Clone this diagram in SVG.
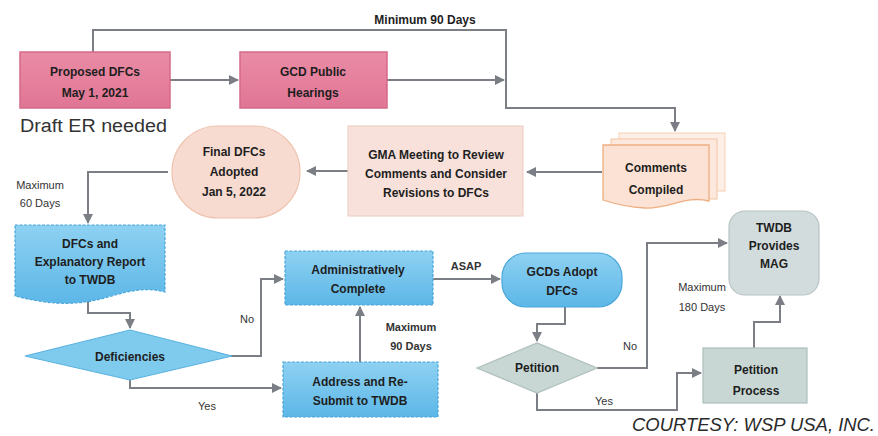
<svg xmlns="http://www.w3.org/2000/svg" width="878" height="436" viewBox="0 0 878 436">
<defs>
<marker id="ah" viewBox="0 0 10 10" refX="9" refY="5" markerWidth="5" markerHeight="5" orient="auto-start-reverse">
<path d="M0,0 L10,5 L0,10 Z" fill="#7b7f85"/>
</marker>
<linearGradient id="pink" x1="0" y1="0" x2="0" y2="1">
<stop offset="0" stop-color="#ea8ca5"/><stop offset="1" stop-color="#e07595"/>
</linearGradient>
<linearGradient id="blue" x1="0" y1="0" x2="0" y2="1">
<stop offset="0" stop-color="#8ed1f2"/><stop offset="1" stop-color="#5cb7e7"/>
</linearGradient>
<style>
.t{font-family:"Liberation Sans",Arial,sans-serif;font-weight:bold;font-size:12px;fill:#1e1e1e;text-anchor:middle}
.l{font-family:"Liberation Sans",Arial,sans-serif;font-size:11px;fill:#333;text-anchor:middle}
.c{fill:none;stroke:#7b7f85;stroke-width:2}
.pk{fill:url(#pink);stroke:#d56a88;stroke-width:1.5}
.bl{fill:url(#blue);stroke:#4aa6da;stroke-width:1.2;stroke-dasharray:3 1.5}
.gy{fill:#c8d7d4;stroke:#aebfbc;stroke-width:1.2}
</style>
</defs>
<rect width="878" height="436" fill="#ffffff"/>

<g id="connectors">
<path class="c" d="M93,52 V30 H506 V108 H675 V131" marker-end="url(#ah)"/>
<path class="c" d="M170,80 H238" marker-end="url(#ah)"/>
<path class="c" d="M387,80 H504" marker-end="url(#ah)"/>
<path class="c" d="M602,172 H527" marker-end="url(#ah)"/>
<path class="c" d="M348,171 H307" marker-end="url(#ah)"/>
<path class="c" d="M168,172 H88 V223" marker-end="url(#ah)"/>
<path class="c" d="M88,296 V313 H130 V328" marker-end="url(#ah)"/>
<path class="c" d="M230,356 H261 V279 H283" marker-end="url(#ah)"/>
<path class="c" d="M130,378 V388 H281" marker-end="url(#ah)"/>
<path class="c" d="M360,362 V307" marker-end="url(#ah)"/>
<path class="c" d="M433,279 H500" marker-end="url(#ah)"/>
<path class="c" d="M565,307 V324 H537 V341" marker-end="url(#ah)"/>
<path class="c" d="M597,368 H647 V243 H727" marker-end="url(#ah)"/>
<path class="c" d="M537,393 V410 H677 V373 H701" marker-end="url(#ah)"/>
<path class="c" d="M754,348 V322 H780 V296" marker-end="url(#ah)"/>
<text x="425" y="24" class="t" font-size="13.5">Minimum 90 Days</text>
<text x="40" y="189" class="l" font-size="10.5" fill="#555">Maximum</text>
<text x="40" y="207" class="l" font-size="10.5" fill="#555">60 Days</text>
<text x="247" y="323" class="l">No</text>
<text x="207" y="410" class="l">Yes</text>
<text x="411" y="331" class="l" font-weight="bold">Maximum</text>
<text x="411" y="350" class="l" font-weight="bold">90 Days</text>
<text x="466" y="270" class="l" font-weight="bold">ASAP</text>
<text x="630" y="350" class="l">No</text>
<text x="604" y="405" class="l">Yes</text>
<text x="702" y="291" class="l" font-size="10.5" fill="#555">Maximum</text>
<text x="702" y="311" class="l" font-size="10.5" fill="#555">180 Days</text>
</g>

<g id="proposed">
<rect x="20" y="52" width="150" height="56" class="pk"/>
<text x="95" y="76" class="t" font-size="13">Proposed DFCs</text>
<text x="95" y="97" class="t" font-size="13">May 1, 2021</text>
</g>
<text x="20" y="132" font-family="'Liberation Sans',Arial,sans-serif" font-size="18" fill="#333" textLength="147" lengthAdjust="spacingAndGlyphs">Draft ER needed</text>

<g id="hearings">
<rect x="240" y="52" width="147" height="56" class="pk"/>
<text x="313" y="76" class="t" font-size="13">GCD Public</text>
<text x="313" y="97" class="t" font-size="13">Hearings</text>
</g>

<g id="comments">
<rect x="619" y="133" width="106" height="58" fill="#fdeee6" stroke="#f5cfb5" stroke-width="1"/>
<rect x="611" y="139" width="106" height="60" fill="#fce8dc" stroke="#f3c4a4" stroke-width="1"/>
<path d="M603,145 H709 V201 C685,195 670,209 645,208 C625,207 612,203 603,200 Z" fill="#fbe2d4" stroke="#efae82" stroke-width="1.3"/>
<text x="656" y="172" class="t">Comments</text>
<text x="656" y="194" class="t">Compiled</text>
</g>

<g id="gma">
<rect x="348" y="126" width="175" height="90" fill="#f8e1db" stroke="#efd1c9" stroke-width="1.2"/>
<text x="436" y="159" class="t" font-size="11.5">GMA Meeting to Review</text>
<text x="436" y="178" class="t" font-size="11.5">Comments and Consider</text>
<text x="436" y="197" class="t" font-size="11.5">Revisions to DFCs</text>
</g>

<g id="final">
<rect x="172" y="126" width="128" height="92" rx="46" fill="#f7dbd1" stroke="#eec3ad" stroke-width="1.2"/>
<text x="234" y="156" class="t" font-size="12.5">Final DFCs</text>
<text x="234" y="176" class="t" font-size="12.5">Adopted</text>
<text x="234" y="196" class="t" font-size="12.5">Jan 5, 2022</text>
</g>

<g id="report">
<path d="M15,225 H165 V292 C135,284 115,298 85,302 C55,306 32,300 15,296 Z" class="bl"/>
<text x="90" y="248" class="t" font-size="11.5">DFCs and</text>
<text x="90" y="266" class="t" font-size="11.5">Explanatory Report</text>
<text x="90" y="284" class="t" font-size="11.5">to TWDB</text>
</g>

<g id="deficiencies">
<polygon points="25,356 130,330 232,356 130,380" fill="#7fcbee" stroke="#5bb2e0" stroke-width="1.2"/>
<text x="130" y="361" class="t" font-size="13">Deficiencies</text>
</g>

<g id="admin">
<rect x="285" y="251" width="148" height="54" class="bl"/>
<text x="358" y="274" class="t">Administratively</text>
<text x="358" y="293" class="t">Complete</text>
</g>

<g id="address">
<rect x="283" y="362" width="155" height="55" class="bl"/>
<text x="360" y="386" class="t">Address and Re-</text>
<text x="360" y="405" class="t">Submit to TWDB</text>
</g>

<g id="gcds">
<rect x="502" y="253" width="120" height="54" rx="24" fill="url(#blue)" stroke="#4aa6da" stroke-width="1.2"/>
<text x="562" y="276" class="t">GCDs Adopt</text>
<text x="562" y="295" class="t">DFCs</text>
</g>

<g id="petition">
<polygon points="477,368 537,343 597,368 537,393" class="gy"/>
<text x="537" y="372" class="t">Petition</text>
</g>

<g id="petition-process">
<rect x="703" y="348" width="104" height="55" class="gy"/>
<text x="756" y="374" class="t" font-size="12.5">Petition</text>
<text x="756" y="395" class="t" font-size="12.5">Process</text>
</g>

<g id="twdb">
<rect x="729" y="211" width="90" height="84" rx="16" fill="#d3dcdc" stroke="#b8c3c3" stroke-width="1.2"/>
<text x="774" y="232" class="t" font-size="11.5">TWDB</text>
<text x="774" y="250" class="t" font-size="11.5">Provides</text>
<text x="774" y="268" class="t" font-size="11.5">MAG</text>
</g>

<text x="875" y="431" font-family="'Liberation Sans',Arial,sans-serif" font-style="italic" font-size="18" fill="#2a2a2a" text-anchor="end" textLength="243" lengthAdjust="spacingAndGlyphs">COURTESY: WSP USA, INC.</text>
</svg>
